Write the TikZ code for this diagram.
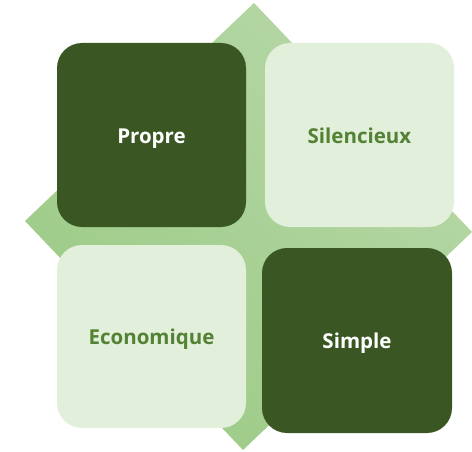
\documentclass[tikz,border=0pt]{standalone}
\usepackage{fontspec}
\setmainfont{Open Sans}
\definecolor{darkgreen}{HTML}{3A5723}
\definecolor{lightgreen}{HTML}{E2EFDA}
\definecolor{textgreen}{HTML}{548235}
\definecolor{diamdark}{HTML}{9CCB86}
\definecolor{diamlight}{HTML}{B6D7A6}
\tikzset{
  tile/.style={rounded corners=25pt, inner sep=0pt, text height=16pt, text depth=0pt, font=\fontsize{20.5}{24}\selectfont\bfseries},
  darktile/.style={tile, fill=darkgreen, text=white},
  lighttile/.style={tile, fill=lightgreen, text=textgreen},
}
\begin{document}
\begin{tikzpicture}[x=1pt,y=-1pt]
\useasboundingbox (0,0) rectangle (472,452);
\shade[top color=diamlight, bottom color=diamdark, shading angle=-45]
  (254,3) -- (472,232) -- (243,450) -- (25,221) -- cycle;
\node[darktile, minimum width=189pt, minimum height=184pt] (propre) at (151.5,135) {Propre};
\node[lighttile, minimum width=189pt, minimum height=184pt] (silencieux) at (359.5,135) {Silencieux};
\node[lighttile, minimum width=189pt, minimum height=183pt] (economique) at (151.5,336.5) {Economique};
\node[darktile, minimum width=190pt, minimum height=185pt] (simple) at (357,340.5) {Simple};
\end{tikzpicture}
\end{document}
